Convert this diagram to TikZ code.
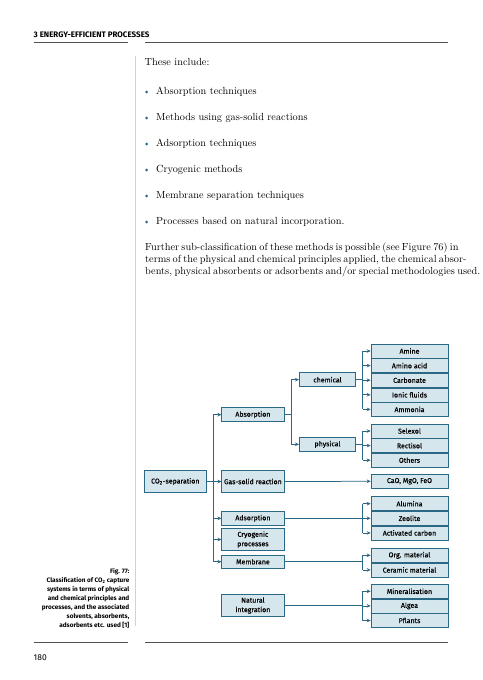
\documentclass[tikz,border=0pt]{standalone}
\usepackage{fontspec}
\setsansfont{Fira Sans}
\newfontfamily\boxfont{Fira Sans}[FakeBold=0.35]
\usetikzlibrary{arrows.meta,positioning}
\definecolor{ccfill}{RGB}{214,230,237}
\definecolor{ccline}{RGB}{42,104,134}
\definecolor{ccrule}{RGB}{80,80,80}
\tikzstyle{arrow} = [line width=0.75pt,-{Stealth[length=4pt,width=3.6pt]},color=ccline]
\tikzstyle{link} = [line width=0.75pt,color=ccline]
\tikzstyle{box} = [draw=ccline, line width=0.6pt, fill=ccfill, inner sep=0pt, align=center, font=\boxfont\fontsize{7}{9.5}\selectfont]
\tikzstyle{item} = [box, minimum width=77pt, minimum height=14pt]
\tikzstyle{method} = [box, minimum width=62.3pt, minimum height=14pt]
\tikzstyle{kind} = [box, minimum width=56.4pt, minimum height=14pt]
\tikzstyle{bodytext} = [inner sep=0pt, font=\fontsize{10.3}{12}\selectfont]

\begin{document}
\begin{tikzpicture}[x=1pt, y=-1pt]
\useasboundingbox (0,0) rectangle (482,680);

% Running head and page rules
\node[anchor=west, inner sep=0pt, font=\sffamily\bfseries\fontsize{8}{9}\selectfont] (head) at (33.5,35) {3 ENERGY-EFFICIENT PROCESSES};
\draw[ccrule, line width=0.8pt] (34,42.5) -- (127.5,42.5);
\draw[ccrule, line width=0.8pt] (145,42.5) -- (448,42.5);
\draw[ccrule, line width=0.8pt] (34,642.7) -- (127.5,642.7);
\draw[ccrule, line width=0.8pt] (145,642.7) -- (448,642.7);
\draw[gray!35, line width=0.9pt] (135.7,56) -- (135.7,626);
\node[anchor=base west, inner sep=0pt, font=\sffamily\fontsize{8.5}{10}\selectfont] (pagenum) at (33.5,660) {180};

% Body text
\node[bodytext, anchor=base west] (intro) at (144.5,65.6) {These include:};
\foreach \t [count=\i] in {Absorption techniques, Methods using gas-solid reactions,
  Adsorption techniques, Cryogenic methods, Membrane separation techniques,
  Processes based on natural incorporation.} {
  \fill[ccline] (146.6,{92+(\i-1)*26}) circle (1.5);
  \node[bodytext, anchor=base west] (bullet\i) at (156,{94.3+(\i-1)*26}) {\t};
}
\node[bodytext, anchor=base west, align=left] (para) at (145,274)
  {\makebox[303pt][s]{Further sub-classification of these methods is possible (see Figure 76) in}\\
   \makebox[303pt][s]{terms of the physical and chemical principles applied, the chemical absor-}\\
   \makebox[303pt][s]{bents, physical absorbents or adsorbents and/or special methodologies used.}};

% Caption
\node[anchor=north east, inner sep=0pt, align=right, font=\sffamily\bfseries\fontsize{6.4}{9}\selectfont] (caption) at (129.5,568.5)
  {Fig. 77:\\ Classification of CO\textsubscript{2} capture\\ systems in terms of physical\\
   and chemical principles and\\ processes, and the associated\\ solvents, absorbents,\\
   adsorbents etc. used [1]};

% Classification tree
\node[box, minimum width=62.7pt, minimum height=22pt] (co2) at (175.3,481.5) {CO\textsubscript{2}-separation};

\node[method] (absorp) at (252.9,414.7) {Absorption};
\node[method, minimum height=22pt] (gassolid) at (252.9,481.5) {Gas-solid reaction};
\node[method, minimum height=13.5pt] (adsorp) at (252.9,518.3) {Adsorption};
\node[method, minimum height=22pt] (cryo) at (252.9,539.5) {Cryogenic\\processes};
\node[method, minimum height=13.5pt] (membr) at (252.9,561.7) {Membrane};
\node[method, minimum height=22pt] (natural) at (252.9,605.5) {Natural\\integration};

\node[kind] (chem) at (327.5,379.7) {chemical};
\node[kind] (phys) at (327.5,444.3) {physical};

\node[item] (amine) at (409.5,351) {Amine};
\node[item, below=0pt of amine] (aminoacid) {Amino acid};
\node[item, below=0pt of aminoacid] (carbonate) {Carbonate};
\node[item, below=0pt of carbonate] (ionic) {Ionic fluids};
\node[item, below=0pt of ionic] (ammonia) {Ammonia};

\node[item] (selexol) at (409.5,431) {Selexol};
\node[item, below=0pt of selexol] (rectisol) {Rectisol};
\node[item, below=0pt of rectisol] (others) {Others};

\node[item] (cao) at (409.5,481.3) {CaO, MgO, FeO};

\node[item] (alumina) at (409.5,503.7) {Alumina};
\node[item, below=0pt of alumina] (zeolite) {Zeolite};
\node[item, below=0pt of zeolite] (actcarbon) {Activated carbon};

\node[item] (orgmat) at (409.5,555.3) {Org. material};
\node[item, below=0pt of orgmat] (ceramic) {Ceramic material};

\node[item] (mineral) at (409.5,591.3) {Mineralisation};
\node[item, below=0pt of mineral] (algea) {Algea};
\node[item, below=0pt of algea] (pflants) {Pflants};

% Connectors
\coordinate (trunk) at (213.3,0);
\coordinate (afork) at (291,0);
\coordinate (fork) at (362.7,0);

\draw[link] (co2.east) -- (co2.east -| trunk);
\draw[link] (absorp.west -| trunk) -- (membr.west -| trunk);
\foreach \n in {absorp,gassolid,adsorp,cryo,membr}
  \draw[arrow] (\n.west -| trunk) -- (\n.west);

\draw[link] (absorp.east) -- (absorp.east -| afork);
\draw[link] (chem.west -| afork) -- (phys.west -| afork);
\foreach \n in {chem,phys}
  \draw[arrow] (\n.west -| afork) -- (\n.west);

\draw[link] (chem.east) -- (chem.east -| fork);
\draw[link] (amine.west -| fork) -- (ammonia.west -| fork);
\foreach \n in {amine,aminoacid,carbonate,ionic,ammonia}
  \draw[arrow] (\n.west -| fork) -- (\n.west);

\draw[link] (phys.east) -- (phys.east -| fork);
\draw[link] (selexol.west -| fork) -- (others.west -| fork);
\foreach \n in {selexol,rectisol,others}
  \draw[arrow] (\n.west -| fork) -- (\n.west);

\draw[arrow] (gassolid.east) -- (cao.west);

\draw[link] (adsorp.east) -- (adsorp.east -| fork);
\draw[link] (alumina.west -| fork) -- (actcarbon.west -| fork);
\foreach \n in {alumina,zeolite,actcarbon}
  \draw[arrow] (\n.west -| fork) -- (\n.west);

\draw[link] (membr.east) -- (membr.east -| fork);
\draw[link] (orgmat.west -| fork) -- (ceramic.west -| fork);
\foreach \n in {orgmat,ceramic}
  \draw[arrow] (\n.west -| fork) -- (\n.west);

\draw[link] (natural.east) -- (natural.east -| fork);
\draw[link] (mineral.west -| fork) -- (pflants.west -| fork);
\foreach \n in {mineral,algea,pflants}
  \draw[arrow] (\n.west -| fork) -- (\n.west);
\end{tikzpicture}
\end{document}
